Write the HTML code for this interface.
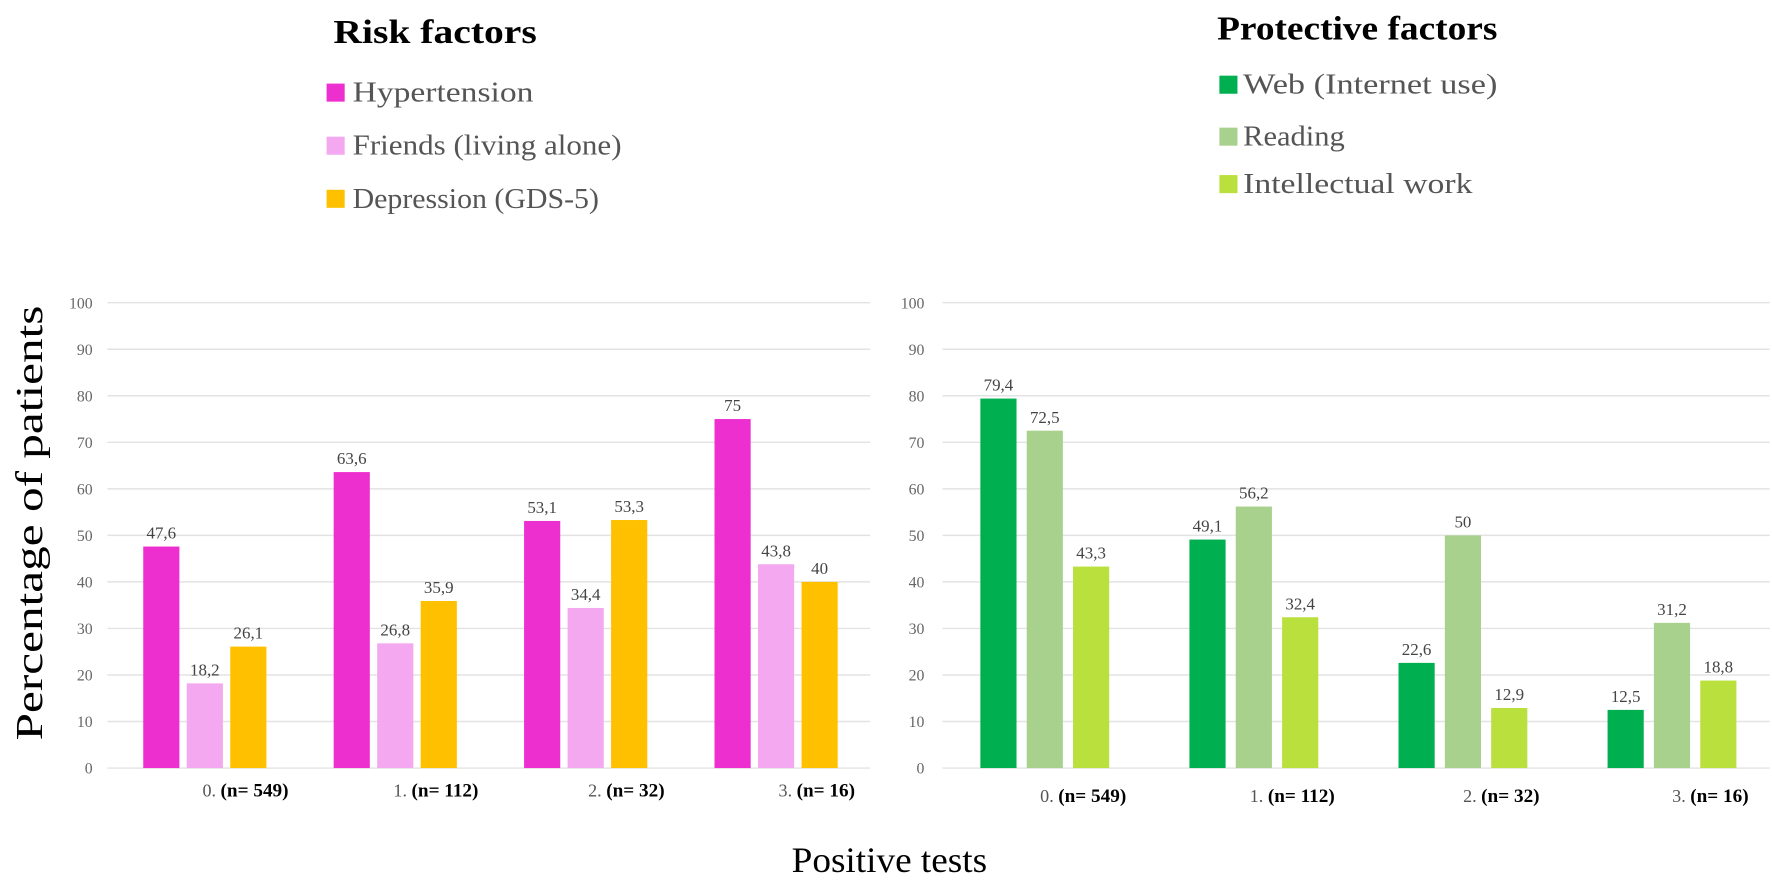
<!DOCTYPE html>
<html><head><meta charset="utf-8"><style>
body{margin:0;background:#fff;}
svg{display:block;font-family:"Liberation Serif",serif;}
</style></head><body>
<svg id="chart" width="1772" height="881" viewBox="0 0 1568 780" preserveAspectRatio="none">
<g>
<text x="295" y="38" font-size="30" font-weight="bold" fill="#000" textLength="180" lengthAdjust="spacingAndGlyphs">Risk factors</text>
<rect x="289" y="74" width="16" height="16" fill="#EE2FD0"/>
<text x="312" y="90" font-size="25" fill="#555" textLength="160" lengthAdjust="spacingAndGlyphs">Hypertension</text>
<rect x="289" y="121" width="16" height="16" fill="#F4A8F0"/>
<text x="312" y="137" font-size="25" fill="#555" textLength="238" lengthAdjust="spacingAndGlyphs">Friends (living alone)</text>
<rect x="289" y="168" width="16" height="16" fill="#FFC000"/>
<text x="312" y="184" font-size="25" fill="#555" textLength="218" lengthAdjust="spacingAndGlyphs">Depression (GDS-5)</text>
</g>
<g>
<text x="1077" y="35" font-size="30" font-weight="bold" fill="#000" textLength="248" lengthAdjust="spacingAndGlyphs">Protective factors</text>
<rect x="1079" y="67" width="16" height="16" fill="#00B050"/>
<text x="1100" y="83" font-size="25" fill="#555" textLength="225" lengthAdjust="spacingAndGlyphs">Web (Internet use)</text>
<rect x="1079" y="113" width="16" height="16" fill="#A9D18E"/>
<text x="1100" y="129" font-size="25" fill="#555" textLength="90" lengthAdjust="spacingAndGlyphs">Reading</text>
<rect x="1079" y="155" width="16" height="16" fill="#B9E03C"/>
<text x="1100" y="171" font-size="25" fill="#555" textLength="203" lengthAdjust="spacingAndGlyphs">Intellectual work</text>
</g>
<text transform="translate(37,463) rotate(-90)" text-anchor="middle" font-size="34" fill="#000" textLength="385" lengthAdjust="spacingAndGlyphs">Percentage of patients</text>
<text x="787" y="772" text-anchor="middle" font-size="32" fill="#000" textLength="173" lengthAdjust="spacingAndGlyphs">Positive tests</text>
<g id="plots"></g>
</svg>
<script>
const categories=["0.","1.","2.","3."];
const nLabels=["(n= 549)","(n= 112)","(n= 32)","(n= 16)"];
const yTicks=[0,10,20,30,40,50,60,70,80,90,100];
const hypertension=[47.6,63.6,53.1,75];
const friends=[18.2,26.8,34.4,43.8];
const depression=[26.1,35.9,53.3,40];
const web=[79.4,49.1,22.6,12.5];
const reading=[72.5,56.2,50,31.2];
const intellectual=[43.3,32.4,12.9,18.8];
const NS="http://www.w3.org/2000/svg";
const root=document.getElementById('plots');
function mk(t,a,p){const e=document.createElementNS(NS,t);for(const k in a)e.setAttribute(k,a[k]);p.appendChild(e);return e;}
function y(v){return 680-v*4.12;}
function panel(name,x0,w,gx0,gx1,labX,barW,step,series,colors,names,xlabY,xlabOff){
  const g=mk('g',{},root);
  
  
  yTicks.forEach(t=>{
    const l=mk('line',{x1:gx0,x2:gx1,y1:y(t),y2:y(t),stroke:'#e3e3e3','stroke-width':1.3},g);
    
    
    const tx=mk('text',{x:labX,y:y(t)+5,'text-anchor':'end','font-size':14,fill:'#666'},g);
    tx.textContent=t;
    
    
  });
  const band=w/categories.length;
  categories.forEach((c,i)=>{
    const cx=x0+band*(i+0.5);
    series.forEach((s,j)=>{
      const bx=cx+(j-1)*step;
      const r=mk('rect',{x:bx-barW/2,y:y(s[i]),width:barW,height:680-y(s[i]),fill:colors[j]},g);
      
      
      const t=mk('text',{x:bx,y:y(s[i])-7,'text-anchor':'middle','font-size':15,fill:'#444'},g);
      t.textContent=String(s[i]).replace('.',',');
      
      
    });
    const xl=mk('text',{x:cx+xlabOff,y:xlabY,'text-anchor':'middle','font-size':16,fill:'#000'},g);
    
    
    const a=mk('tspan',{fill:'#555'},xl);a.textContent=c+' ';
    const b=mk('tspan',{'font-weight':'bold','font-size':17},xl);b.textContent=nLabels[i];
  });
}
panel('risk-factors-panel',97,674,95,770,82,32,38.5,[hypertension,friends,depression],['#EE2FD0','#F4A8F0','#FFC000'],['hypertension','friends','depression'],705,36);
panel('protective-factors-panel',832,740,834,1566,818,32,41,[web,reading,intellectual],['#00B050','#A9D18E','#B9E03C'],['web','reading','intellectual'],710,34);
</script>
</body></html>
